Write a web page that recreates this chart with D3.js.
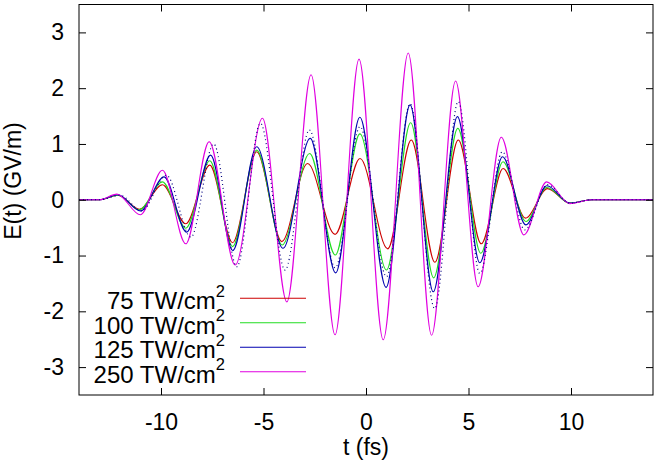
<!DOCTYPE html>
<html>
<head>
<meta charset="utf-8">
<script src="https://cdn.jsdelivr.net/npm/d3@7"></script>
<style>
  html, body { margin: 0; padding: 0; background: #fff; }
  svg { display: block; font-family: "Liberation Sans", Arial, Helvetica, sans-serif; }
</style>
</head>
<body>
<svg id="chart" width="657" height="473"></svg>
<script>
// ---- data (extrema of each trace) ----
const xTicks = [-10, -5, 0, 5, 10];
const yTicks = [-3, -2, -1, 0, 1, 2, 3];
const seriesLabels = ["75 TW/cm", "100 TW/cm", "125 TW/cm", "250 TW/cm"];

const t75  = [-14, -13, -12.1, -11.05, -9.93, -8.79, -7.62, -6.51, -5.33, -4.11, -2.85, -1.51, -0.29, 1.06, 2.21, 3.36, 4.5, 5.62, 6.69, 7.78, 8.85, 9.94, 11, 14];
const e75  = [0, 0, 0.08, -0.17, 0.27, -0.43, 0.62, -0.77, 0.86, -0.75, 0.65, -0.62, 0.74, -0.88, 1.07, -1.12, 1.07, -0.79, 0.56, -0.33, 0.20, -0.06, 0, 0];

const t100 = [-14, -13, -12.1, -11.05, -9.93, -8.79, -7.62, -6.51, -5.33, -4.09, -2.75, -1.5, -0.3, 1.0, 2.18, 3.3, 4.48, 5.6, 6.68, 7.8, 8.82, 9.94, 11, 14];
const e100 = [0, 0, 0.08, -0.18, 0.32, -0.51, 0.70, -0.84, 0.89, -0.81, 0.83, -0.99, 1.18, -1.26, 1.38, -1.40, 1.28, -0.96, 0.68, -0.39, 0.22, -0.06, 0, 0];

const t125 = [-14, -13, -12.1, -11.0, -9.85, -8.75, -7.58, -6.5, -5.33, -4.05, -2.72, -1.48, -0.3, 0.98, 2.15, 3.28, 4.46, 5.55, 6.66, 7.8, 8.82, 9.94, 11, 14];
const e125 = [0, 0, 0.09, -0.2, 0.41, -0.58, 0.80, -0.91, 0.95, -0.87, 1.10, -1.31, 1.48, -1.57, 1.70, -1.65, 1.49, -1.13, 0.77, -0.45, 0.25, -0.06, 0, 0];

const t250 = [-14, -13, -12.15, -11.0, -9.93, -8.79, -7.65, -6.38, -5.05, -3.86, -2.68, -1.51, -0.34, 0.84, 2.06, 3.2, 4.37, 5.47, 6.6, 7.7, 8.81, 9.94, 11, 14];
const e250 = [0, 0, 0.1, -0.27, 0.53, -0.79, 1.04, -1.17, 1.46, -1.83, 2.24, -2.42, 2.52, -2.51, 2.63, -2.43, 2.13, -1.56, 1.12, -0.63, 0.32, -0.07, 0, 0];

// unlabeled dotted trace
const tDot = [-14, -13, -12.0, -10.95, -9.74, -8.54, -7.43, -6.3, -5.15, -3.95, -2.76, -1.5, -0.29, 1.0, 2.15, 3.35, 4.5, 5.55, 6.65, 7.75, 8.85, 9.94, 11, 14];
const eDot = [0, 0, 0.08, -0.2, 0.44, -0.67, 1.0, -1.2, 1.37, -1.26, 1.25, -1.22, 1.31, -1.38, 1.72, -1.95, 1.76, -1.32, 0.86, -0.54, 0.27, -0.06, 0, 0];

// ---- layout ----
const svg = d3.select("#chart");
const L = 79, R = 653, T = 4.5, B = 395;
const x = d3.scaleLinear().domain([-14, 14]).range([L, R]);
const y = d3.scaleLinear().domain([-3.5, 3.5]).range([B, T]);
const FS = 23;

const series = [
  { t: t75,  e: e75,  color: "#cc0000", label: seriesLabels[0] },
  { t: t100, e: e100, color: "#22dd22", label: seriesLabels[1] },
  { t: t125, e: e125, color: "#0000b0", label: seriesLabels[2] },
  { t: t250, e: e250, color: "#e000e0", label: seriesLabels[3] },
  { t: tDot, e: eDot, color: "#000080", label: null, dotted: true }
];

const line = d3.line()
  .x(d => x(d[0]))
  .y(d => y(d[1]))
  .curve(d3.curveMonotoneX);

const gLines = svg.append("g");
series.forEach(s => {
  const pts = s.t.map((tv, i) => [tv, s.e[i]]);
  gLines.append("path")
    .attr("d", line(pts))
    .attr("fill", "none")
    .attr("stroke", s.color)
    .attr("stroke-width", s.dotted ? 1.2 : 1.1)
    .attr("stroke-dasharray", s.dotted ? "1,3" : null);
});

// ---- axes (gnuplot style, inward ticks, mirrored) ----
const tk = 7;
const axB = svg.append("g").attr("transform", `translate(0,${B})`)
  .call(d3.axisBottom(x).tickValues(xTicks).tickSize(-tk).tickPadding(18.5).tickFormat(d3.format("d")));
const axT = svg.append("g").attr("transform", `translate(0,${T})`)
  .call(d3.axisTop(x).tickValues(xTicks).tickSize(-tk).tickFormat(""));
const axL = svg.append("g").attr("transform", `translate(${L},0)`)
  .call(d3.axisLeft(y).tickValues(yTicks).tickSize(-tk).tickPadding(15).tickFormat(d3.format("d")));
const axR = svg.append("g").attr("transform", `translate(${R},0)`)
  .call(d3.axisRight(y).tickValues(yTicks).tickSize(-tk).tickFormat(""));

[axB, axT, axL, axR].forEach(a => {
  a.select(".domain").remove();
  a.selectAll("line").attr("stroke", "#000").attr("stroke-width", 1);
  a.selectAll("text").attr("font-size", FS).attr("font-family", "Liberation Sans, Arial, sans-serif").attr("fill", "#000");
});
axL.selectAll("text").text(d => d < 0 ? "-" + Math.abs(d) : d);
axB.selectAll("text").text(d => d < 0 ? "-" + Math.abs(d) : d);

svg.append("rect")
  .attr("x", L).attr("y", T).attr("width", R - L).attr("height", B - T)
  .attr("fill", "none").attr("stroke", "#000").attr("stroke-width", 1);

// axis titles
svg.append("text")
  .attr("x", x(0)).attr("y", 455)
  .attr("text-anchor", "middle").attr("font-size", FS)
  .text("t (fs)");
svg.append("text")
  .attr("transform", `translate(21,181) rotate(-90)`)
  .attr("text-anchor", "middle").attr("font-size", FS)
  .text("E(t) (GV/m)");

// ---- legend ----
const keyRows = [298.3, 322.8, 347.3, 371.8];
series.filter(s => s.label).forEach((s, i) => {
  const yy = keyRows[i];
  const tx = svg.append("text")
    .attr("x", 225).attr("y", yy + 10.8)
    .attr("text-anchor", "end").attr("font-size", 24);
  tx.append("tspan").text(s.label);
  tx.append("tspan").attr("dy", -12.5).attr("font-size", 16.5).text("2");
  svg.append("line")
    .attr("x1", 240).attr("x2", 306).attr("y1", yy).attr("y2", yy)
    .attr("stroke", s.color).attr("stroke-width", 1.1);
});
</script>
</body>
</html>
